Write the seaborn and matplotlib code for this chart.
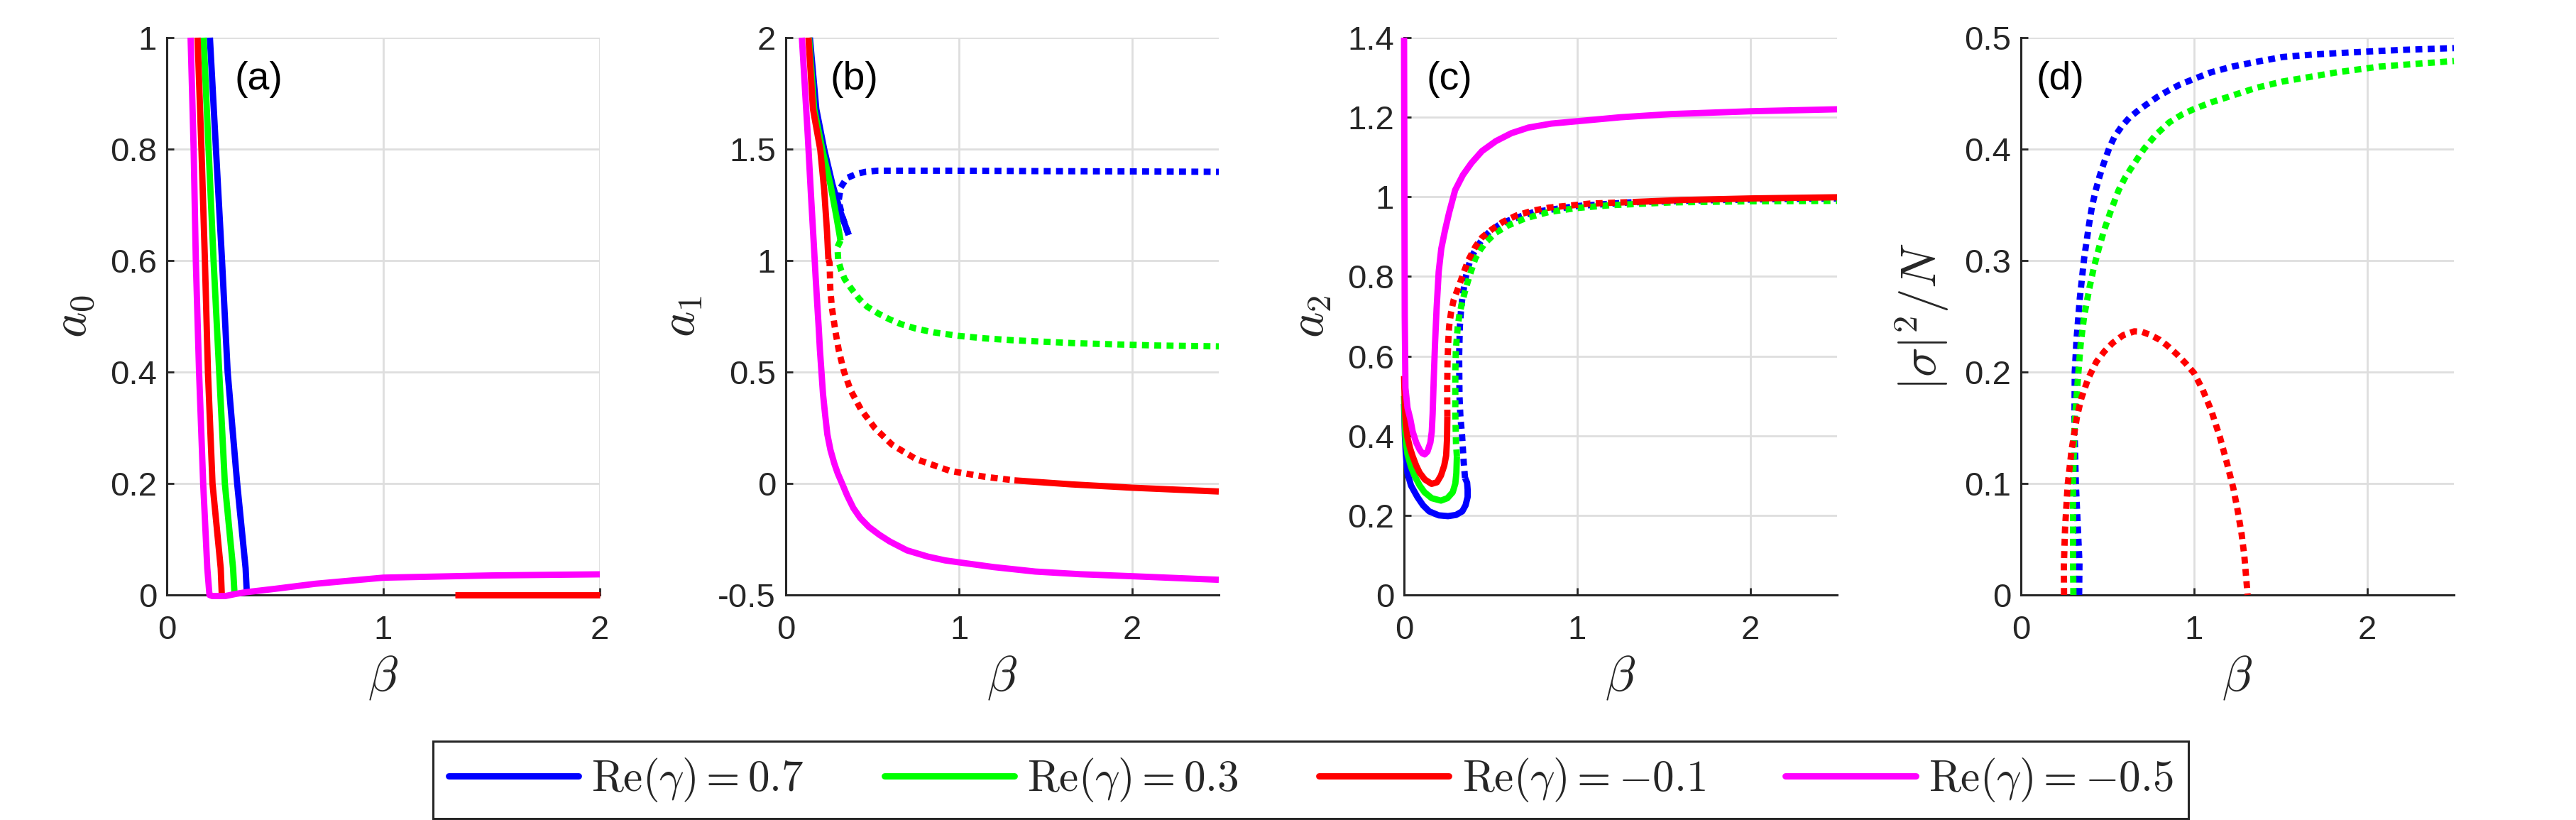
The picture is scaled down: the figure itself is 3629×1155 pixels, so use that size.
import matplotlib
matplotlib.use("Agg")
import matplotlib.pyplot as plt
from matplotlib.lines import Line2D
import pandas as pd
import seaborn as sns

# ---------------- data ----------------
colors = {"0.7": "#0000ff", "0.3": "#00ff00", "-0.1": "#ff0000", "-0.5": "#ff00ff"}
legend_labels = [r"$\mathrm{Re}(\gamma) = 0.7$", r"$\mathrm{Re}(\gamma) = 0.3$",
                 r"$\mathrm{Re}(\gamma) = -0.1$", r"$\mathrm{Re}(\gamma) = -0.5$"]

# (a) a0 vs beta
a_blue_b = [0.199, 0.227, 0.255, 0.281, 0.325, 0.364, 0.370]
a_blue_v = [1.0, 0.8, 0.6, 0.4, 0.2, 0.048, 0.0]
a_green_b = [0.170, 0.193, 0.216, 0.242, 0.268, 0.306, 0.313]
a_green_v = [1.0, 0.8, 0.6, 0.4, 0.2, 0.048, 0.0]
a_red_b = [0.142, 0.160, 0.176, 0.190, 0.211, 0.249, 0.254]
a_red_v = [1.0, 0.8, 0.6, 0.4, 0.2, 0.048, 0.0]
a_red2_b = [1.33, 2.0]
a_red2_v = [0.0, 0.0]
a_mag_b = [0.110, 0.124, 0.134, 0.149, 0.168, 0.187, 0.197, 0.21, 0.27, 0.32,
           0.367, 0.5, 0.685, 1.0, 1.5, 2.0]
a_mag_v = [1.0, 0.8, 0.6, 0.4, 0.2, 0.048, 0.0, -0.002, -0.002, 0.002,
           0.005, 0.011, 0.020, 0.031, 0.035, 0.037]

# (b) a1 vs beta
b_blue_b = [0.139, 0.176, 0.222, 0.27, 0.316, 0.363]
b_blue_v = [2.0, 1.68, 1.498, 1.34, 1.218, 1.115]
b_blue_dot_b = [0.363, 0.328, 0.305, 0.317, 0.352, 0.41, 0.46, 0.529, 0.95, 1.5, 2.0, 2.5]
b_blue_dot_v = [1.115, 1.194, 1.267, 1.328, 1.370, 1.389, 1.398, 1.403, 1.403, 1.401,
                1.400, 1.398]
b_green_b = [0.134, 0.164, 0.211, 0.258, 0.293, 0.316]
b_green_v = [2.0, 1.68, 1.498, 1.34, 1.194, 1.09]
b_green_dot_b = [0.316, 0.298, 0.303, 0.32, 0.34, 0.38, 0.426, 0.47, 0.535, 0.6, 0.665,
                 0.75, 0.853, 1.0, 1.15, 1.3, 1.65, 1.9, 2.14, 2.5]
b_green_dot_v = [1.09, 1.06, 1.0, 0.955, 0.917, 0.872, 0.826, 0.793, 0.762, 0.736, 0.715,
                 0.695, 0.678, 0.662, 0.651, 0.643, 0.630, 0.624, 0.619, 0.615]
b_red_b = [0.131, 0.157, 0.199, 0.222, 0.238, 0.246]
b_red_v = [2.0, 1.68, 1.498, 1.315, 1.13, 1.005]
b_red_dot_b = [0.246, 0.253, 0.257, 0.266, 0.287, 0.306, 0.336, 0.375, 0.434,
               0.515, 0.615, 0.753, 0.95, 1.15, 1.32]
b_red_dot_v = [1.005, 0.99, 0.873, 0.79, 0.68, 0.597, 0.502, 0.417, 0.332,
               0.248, 0.173, 0.109, 0.056, 0.030, 0.014]
b_red2_b = [1.32, 1.65, 2.0, 2.5]
b_red2_v = [0.014, -0.004, -0.019, -0.036]
b_mag_b = [0.093, 0.11, 0.127, 0.145, 0.162, 0.172, 0.182, 0.19, 0.197, 0.206, 0.215,
           0.227, 0.24, 0.258, 0.28, 0.3, 0.325, 0.355, 0.39, 0.43, 0.48, 0.54, 0.6,
           0.7, 0.82, 0.92, 1.03, 1.2, 1.44, 1.7, 2.0, 2.5]
b_mag_v = [2.0, 1.78, 1.56, 1.3, 1.07, 0.93, 0.8, 0.7, 0.6, 0.5, 0.4,
           0.31, 0.22, 0.15, 0.09, 0.045, 0.0, -0.055, -0.11, -0.155, -0.195, -0.23, -0.26,
           -0.3, -0.328, -0.345, -0.357, -0.375, -0.395, -0.407, -0.416, -0.432]

# (c) a2 vs beta
c_blue_b = [0.0, 0.005, 0.01, 0.02, 0.04, 0.077, 0.11, 0.145, 0.2, 0.254, 0.3, 0.336,
            0.355, 0.367, 0.367, 0.364, 0.352]
c_blue_v = [0.48, 0.40, 0.355, 0.306, 0.275, 0.246, 0.225, 0.21, 0.2, 0.198, 0.201, 0.21,
            0.225, 0.246, 0.265, 0.282, 0.294]
c_blue_dot_b = [0.352, 0.345, 0.335, 0.325, 0.32, 0.318, 0.322, 0.328, 0.335, 0.345,
                0.357, 0.372, 0.39, 0.43, 0.46, 0.5, 0.55, 0.6, 0.68, 0.75, 0.85, 1.0,
                1.3, 1.7, 2.1, 2.5]
c_blue_dot_v = [0.294, 0.33, 0.40, 0.45, 0.5, 0.6, 0.674, 0.71, 0.74, 0.77,
                0.8, 0.826, 0.85, 0.88, 0.898, 0.915, 0.93, 0.94, 0.952, 0.962, 0.968, 0.977,
                0.986, 0.991, 0.994, 0.996]
c_green_b = [0.0, 0.005, 0.01, 0.02, 0.04, 0.06, 0.09, 0.118, 0.16, 0.213, 0.25, 0.281,
             0.296, 0.302, 0.305]
c_green_v = [0.50, 0.42, 0.385, 0.353, 0.322, 0.30, 0.275, 0.258, 0.243, 0.237, 0.243,
             0.258, 0.28, 0.306, 0.348]
c_green_dot_b = [0.305, 0.30, 0.296, 0.296, 0.299, 0.31, 0.32, 0.335, 0.355, 0.377, 0.412,
                 0.44, 0.47, 0.53, 0.6, 0.7, 0.836, 1.0, 1.19, 1.54, 2.0, 2.5]
c_green_dot_v = [0.348, 0.38, 0.455, 0.555, 0.615, 0.674, 0.705, 0.734, 0.768, 0.8, 0.846,
                 0.867, 0.885, 0.91, 0.928, 0.946, 0.962, 0.972, 0.979, 0.986, 0.989, 0.99]
c_red_b = [0.0, 0.005, 0.01, 0.02, 0.035, 0.05, 0.07, 0.09, 0.12, 0.159, 0.19, 0.213,
           0.232, 0.243, 0.248, 0.25]
c_red_v = [0.55, 0.47, 0.43, 0.395, 0.368, 0.348, 0.325, 0.307, 0.29, 0.279, 0.283, 0.30,
           0.325, 0.35, 0.39, 0.448]
c_red_dot_b = [0.25, 0.249, 0.251, 0.255, 0.26, 0.272, 0.287, 0.316, 0.34, 0.37, 0.412,
               0.45, 0.506, 0.57, 0.648, 0.74, 0.837, 1.07, 1.32]
c_red_dot_v = [0.448, 0.52, 0.585, 0.635, 0.674, 0.712, 0.742, 0.775, 0.805, 0.84, 0.875,
               0.898, 0.918, 0.937, 0.953, 0.965, 0.973, 0.983, 0.987]
c_red2_b = [1.32, 1.6, 2.0, 2.5]
c_red2_v = [0.987, 0.992, 0.996, 0.999]
c_mag_b = [0.0, 0.002, 0.004, 0.008, 0.02, 0.036, 0.05, 0.07, 0.09, 0.105, 0.119, 0.135,
           0.152, 0.16, 0.165, 0.172, 0.179, 0.188, 0.2, 0.215, 0.236, 0.26, 0.295, 0.34,
           0.389, 0.45, 0.53, 0.62, 0.718, 0.85, 1.0, 1.25, 1.54, 2.0, 2.5]
c_mag_v = [1.4, 1.0, 0.7, 0.52, 0.47, 0.442, 0.41, 0.383, 0.365, 0.356, 0.353, 0.36,
           0.383, 0.41, 0.455, 0.55, 0.633, 0.72, 0.812, 0.87, 0.915, 0.96, 1.017, 1.055,
           1.085, 1.115, 1.14, 1.16, 1.174, 1.184, 1.19, 1.2, 1.208, 1.215, 1.22]

# (d) |sigma|^2/N vs beta (all unstable -> dotted)
d_blue_b = [0.336, 0.338, 0.317, 0.309, 0.311, 0.321, 0.34, 0.365, 0.393, 0.41, 0.43,
            0.455, 0.48, 0.51, 0.54, 0.58, 0.625, 0.68, 0.734, 0.79, 0.857, 0.92, 1.0,
            1.1, 1.22, 1.35, 1.51, 1.7, 2.0, 2.2, 2.5]
d_blue_v = [0.0, 0.0285, 0.1, 0.152, 0.2, 0.229, 0.266, 0.302, 0.332, 0.348, 0.362,
            0.376, 0.388, 0.401, 0.411, 0.42, 0.428, 0.435, 0.441, 0.447, 0.453, 0.458,
            0.463, 0.469, 0.474, 0.478, 0.4826, 0.485, 0.4875, 0.489, 0.4906]
d_green_b = [0.303, 0.301, 0.301, 0.309, 0.332, 0.345, 0.365, 0.395, 0.42, 0.45, 0.48,
             0.52, 0.564, 0.6, 0.637, 0.71, 0.78, 0.857, 0.93, 1.0, 1.1, 1.22, 1.36,
             1.51, 1.83, 2.07, 2.5]
d_green_v = [0.0, 0.0285, 0.1, 0.152, 0.2, 0.225, 0.25, 0.275, 0.293, 0.311, 0.327,
             0.345, 0.363, 0.374, 0.383, 0.40, 0.413, 0.424, 0.431, 0.436, 0.442, 0.448,
             0.455, 0.4606, 0.469, 0.474, 0.479]
d_red_b = [0.249, 0.248, 0.255, 0.27, 0.293, 0.324, 0.348, 0.388, 0.435, 0.482, 0.529,
           0.59, 0.655, 0.7, 0.748, 0.8, 0.843, 0.9, 0.95, 1.0, 1.05, 1.1, 1.15, 1.19,
           1.226, 1.25, 1.274, 1.29, 1.309]
d_red_v = [0.0, 0.026, 0.06, 0.0987, 0.1305, 0.16, 0.176, 0.194, 0.209, 0.2185, 0.226,
           0.233, 0.2365, 0.236, 0.2333, 0.229, 0.224, 0.216, 0.208, 0.199, 0.184, 0.165,
           0.141, 0.118, 0.096, 0.077, 0.055, 0.035, 0.0]

# ---------------- style ----------------
sns.set_theme(style="ticks")
plt.rcParams["font.family"] = ["Liberation Sans", "DejaVu Sans"]
plt.rcParams["mathtext.fontset"] = "cm"
plt.rcParams["axes.unicode_minus"] = False

INK = "#262626"
LW = 6.4
DOT = (0, (1.1, 0.85))

fig = plt.figure(figsize=(36.3, 11.55), dpi=100)
W, H = 3630, 1155
lefts = [235, 1107, 1978, 2847]
axes = [fig.add_axes([l / W, (H - 838) / H, 610 / W, 785 / H]) for l in lefts]


def draw(ax, b, v, key, dotted=False):
    df = pd.DataFrame({"beta": b, "val": v})
    kw = dict(linestyle=DOT, dash_capstyle="butt") if dotted else dict(solid_capstyle="butt")
    sns.lineplot(data=df, x="beta", y="val", ax=ax, color=colors[key], lw=LW,
                 sort=False, estimator=None, legend=False, clip_on=False,
                 zorder=3, **kw)


ax = axes[0]
draw(ax, a_blue_b, a_blue_v, "0.7")
draw(ax, a_green_b, a_green_v, "0.3")
draw(ax, a_red_b, a_red_v, "-0.1")
draw(ax, a_red2_b, a_red2_v, "-0.1")
draw(ax, a_mag_b, a_mag_v, "-0.5")

ax = axes[1]
draw(ax, b_blue_b, b_blue_v, "0.7")
draw(ax, b_blue_dot_b, b_blue_dot_v, "0.7", dotted=True)
draw(ax, b_green_b, b_green_v, "0.3")
draw(ax, b_green_dot_b, b_green_dot_v, "0.3", dotted=True)
draw(ax, b_red_b, b_red_v, "-0.1")
draw(ax, b_red_dot_b, b_red_dot_v, "-0.1", dotted=True)
draw(ax, b_red2_b, b_red2_v, "-0.1")
draw(ax, b_mag_b, b_mag_v, "-0.5")

ax = axes[2]
draw(ax, c_blue_b, c_blue_v, "0.7")
draw(ax, c_blue_dot_b, c_blue_dot_v, "0.7", dotted=True)
draw(ax, c_green_b, c_green_v, "0.3")
draw(ax, c_green_dot_b, c_green_dot_v, "0.3", dotted=True)
draw(ax, c_red_b, c_red_v, "-0.1")
draw(ax, c_red_dot_b, c_red_dot_v, "-0.1", dotted=True)
draw(ax, c_red2_b, c_red2_v, "-0.1")
draw(ax, c_mag_b, c_mag_v, "-0.5")

ax = axes[3]
draw(ax, d_blue_b, d_blue_v, "0.7", dotted=True)
draw(ax, d_green_b, d_green_v, "0.3", dotted=True)
draw(ax, d_red_b, d_red_v, "-0.1", dotted=True)

# axes cosmetics
ylabels = [r"$a_0$", r"$a_1$", r"$a_2$", r"$|\sigma|^2/N$"]
ylims = [(0, 1), (-0.5, 2), (0, 1.4), (0, 0.5)]
yticks = [[0, 0.2, 0.4, 0.6, 0.8, 1], [-0.5, 0, 0.5, 1, 1.5, 2],
          [0, 0.2, 0.4, 0.6, 0.8, 1, 1.2, 1.4], [0, 0.1, 0.2, 0.3, 0.4, 0.5]]
xmax = [2, 2.5, 2.5, 2.5]
letters = ["(a)", "(b)", "(c)", "(d)"]
letter_x = [0.156, 0.103, 0.052, 0.036]

for ax, yl, lim, yt, xm, let, lx in zip(axes, ylabels, ylims, yticks, xmax, letters, letter_x):
    ax.set_xlim(0, xm)
    ax.set_ylim(*lim)
    ax.set_xticks([0, 1, 2])
    ax.set_xticklabels(["0", "1", "2"])
    ax.set_yticks(yt)
    ax.set_yticklabels([f"{t:g}" for t in yt])
    ax.grid(True, color="#dedede", lw=2.0)
    ax.set_axisbelow(True)
    sns.despine(ax=ax)
    for s in ("left", "bottom"):
        ax.spines[s].set_color(INK)
        ax.spines[s].set_linewidth(2.2)
    ax.tick_params(direction="in", length=7, width=2, colors=INK, labelsize=34)
    ax.tick_params(axis="x", pad=20)
    ax.tick_params(axis="y", pad=10)
    ax.set_xlabel(r"$\beta$", fontsize=50, color=INK, labelpad=8)
    ax.set_ylabel(yl, fontsize=50, color=INK, labelpad=14)
    ax.text(lx, 0.925, let, transform=ax.transAxes, fontsize=40, va="center",
            ha="left", color="black")

handles = [Line2D([], [], color=c, lw=LW) for c in colors.values()]
leg = fig.legend(handles, legend_labels, loc="center", bbox_to_anchor=(0.5087, 0.049),
                 ncol=4, fontsize=44, frameon=True, fancybox=False, framealpha=1,
                 edgecolor=INK, handlelength=3.0, handletextpad=0.3,
                 columnspacing=1.85, borderpad=0.35)
leg.get_frame().set_linewidth(2.2)

fig.savefig("out.png", dpi=100)
